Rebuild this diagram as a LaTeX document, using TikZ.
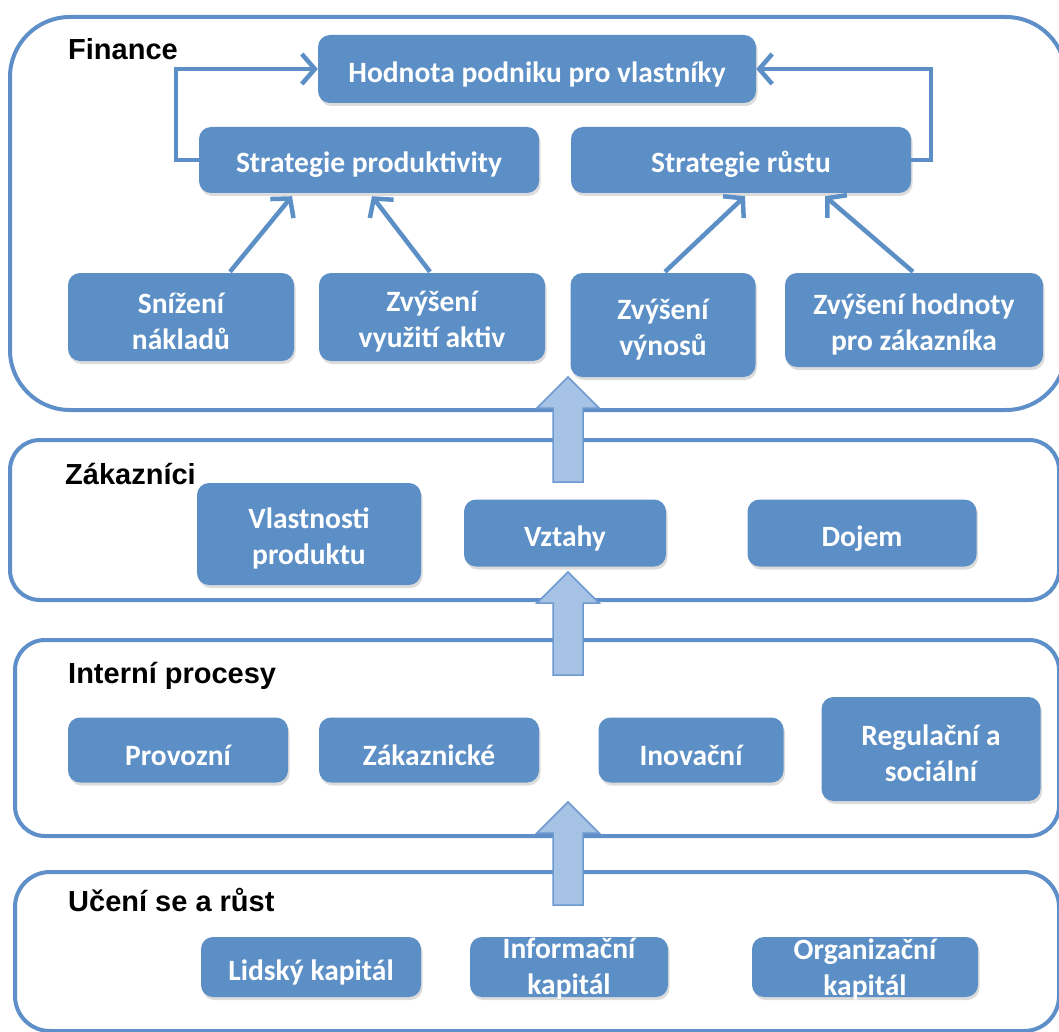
\documentclass[tikz,border=0pt]{standalone}
\usepackage{fontspec}
\usetikzlibrary{arrows.meta,shadows,calc}
\newfontfamily\calib{Carlito}
\newfontfamily\arialf{Liberation Sans}
\definecolor{boxblue}{RGB}{92,143,198}
\definecolor{framebl}{RGB}{94,143,200}
\definecolor{arrfill}{RGB}{166,194,228}
\definecolor{arrline}{RGB}{108,154,208}
% strut that sets the height of a box's first text line
\newcommand{\firststrut}{\rule{0pt}{29pt}}
\tikzset{
  layer/.style={draw=framebl, line width=4},
  layertitle/.style={anchor=base west, inner sep=0, font=\arialf\bfseries\fontsize{29}{33}\selectfont},
  boxtext/.style={text=white, inner sep=0, align=center, font=\calib\bfseries\fontsize{29.5}{36}\selectfont},
  box/.style={rounded corners=12, fill=boxblue, boxtext,
    execute at begin node={\rule{0pt}{31pt}},
    drop shadow={opacity=0.28, shadow xshift=1.5pt, shadow yshift=-3pt}},
  conn/.style={draw=boxblue, line width=4.5, -{Straight Barb[length=13, width=30, line width=4.5]}},
  bigarrow/.style={fill=arrfill, draw=arrline, line width=1.5, line join=miter}
}
% upward block arrow: centre x, tail y, tip y
\newcommand{\blockup}[3]{%
  \filldraw[bigarrow] (#1-15,#2) -- (#1-15,#3+31) -- (#1-31,#3+31) -- (#1,#3)
    -- (#1+31,#3+31) -- (#1+15,#3+31) -- (#1+15,#2) -- cycle;}
\begin{document}
\begin{tikzpicture}[x=1pt, y=-1pt]
\useasboundingbox (0,0) rectangle (1059,1032);
\begin{scope}
\clip (0,0) rectangle (1059,1032);
% perspective layers
\draw[layer, rounded corners=60] (10,17) rectangle (1066,410);
\draw[layer, rounded corners=30] (10,440) rectangle (1059,600);
\draw[layer, rounded corners=30] (15,640) rectangle (1059,836);
\draw[layer, rounded corners=35] (15,872) rectangle (1059,1031);
\end{scope}

\node[layertitle] (tfin) at (68,60) {Finance};
\node[layertitle] (tzak) at (65,484) {Zákazníci};
\node[layertitle] (tint) at (68,683) {Interní procesy};
\node[layertitle] (tuc) at (68,911) {Učení se a růst};

% Finance
\node[box, minimum width=438, minimum height=68] (hodnota) at (537,69) {Hodnota podniku pro vlastníky};
\node[box, minimum width=340, minimum height=66] (sprod) at (369,160) {Strategie produktivity};
\node[box, minimum width=340, minimum height=66] (srust) at (741,160) {Strategie růstu};
\node[box, minimum width=226, minimum height=88] (sniz) at (181,317) {\firststrut Snížení\\nákladů};
\node[box, minimum width=226, minimum height=88] (vyuz) at (432,317) {\firststrut Zvýšení\\využití aktiv};
\node[box, minimum width=185, minimum height=104] (vynos) at (663,325) {\firststrut Zvýšení\\výnosů};
\node[box, minimum width=258, minimum height=94] (hodz) at (914,320) {\firststrut Zvýšení hodnoty\\pro zákazníka};

% Zákazníci
\node[box, minimum width=224, minimum height=102] (vlast) at (309,534) {\firststrut Vlastnosti\\produktu};
\node[box, minimum width=202, minimum height=67] (vztahy) at (565,533) {Vztahy};
\node[box, minimum width=229, minimum height=67] (dojem) at (862,533) {Dojem};

% Interní procesy
\node[box, minimum width=220, minimum height=65] (provoz) at (178,750) {Provozní};
\node[box, minimum width=220, minimum height=65] (zakaz) at (429,750) {Zákaznické};
\node[box, minimum width=185, minimum height=65] (inov) at (691,750) {Inovační};
\node[box, minimum width=219, minimum height=104] (regul) at (931,749) {\firststrut Regulační a\\sociální};

% Učení se a růst (two-line texts overflow their short boxes)
\node[box, minimum width=220, minimum height=60] (lids) at (311,967) {Lidský kapitál};
\node[box, minimum width=198, minimum height=60,
  label={[boxtext, yshift=-2pt]center:Informační\\kapitál}] (info) at (569,967) {};
\node[box, minimum width=226, minimum height=60,
  label={[boxtext, yshift=-2pt]center:Organizační\\kapitál}] (orga) at (865,967) {};

% strategy feedback into owner value
\draw[conn] (sprod.west) -- ++(-23,0) |- (hodnota.west);
\draw[conn] (srust.east) -- ++(20,0) |- (hodnota.east);
\draw[conn] ($(sniz.north)+(49,-1)$) -- ($(sprod.south)+(-77,3)$);
\draw[conn] ($(vyuz.north)+(-2,-1)$) -- ($(sprod.south)+(3,3)$);
\draw[conn] ($(vynos.north)+(2,-1)$) -- ($(srust.south)+(4,3)$);
\draw[conn] ($(hodz.north)+(-1,-1)$) -- ($(srust.south)+(84,3)$);

% causal flow between layers
\blockup{568}{482}{377}
\blockup{568}{675}{572}
\blockup{568}{905}{802}
\end{tikzpicture}
\end{document}
